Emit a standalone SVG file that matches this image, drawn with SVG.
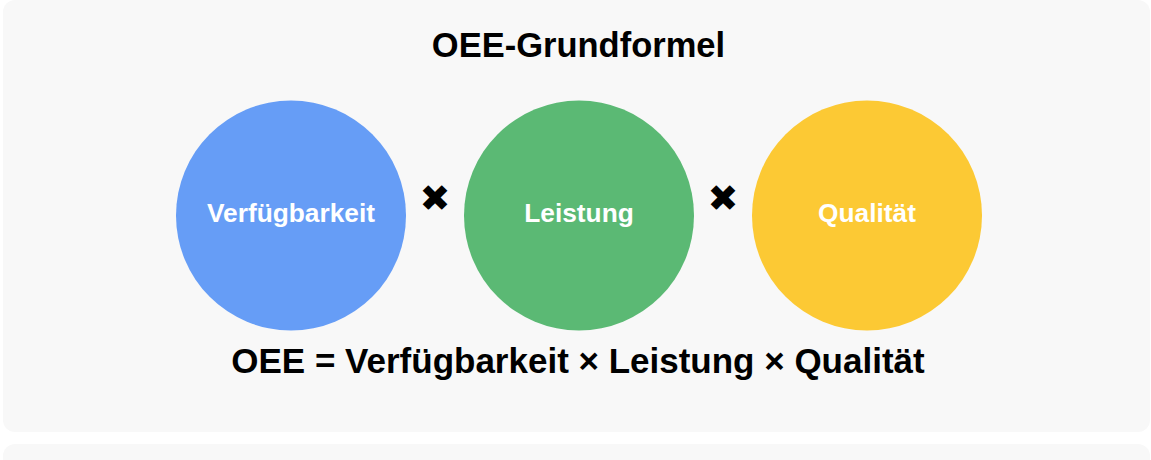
<svg xmlns="http://www.w3.org/2000/svg" width="1151" height="460" viewBox="0 0 1151 460">
  <style>
    .panel { fill: #f8f8f8; }
    .title { font-family: "Liberation Sans", Arial, sans-serif; font-weight: bold; fill: #000; text-anchor: middle; }
    .lbl { font-family: "Liberation Sans", Arial, sans-serif; font-weight: bold; font-size: 26.3px; fill: #fff; text-anchor: middle; }
    .op { font-family: "DejaVu Sans", sans-serif; font-size: 37px; fill: #000; text-anchor: middle; }
  </style>
  <rect width="1151" height="460" fill="#ffffff"/>
  <rect class="panel" x="3" y="0" width="1147" height="432" rx="12" ry="12"/>
  <rect class="panel" x="3" y="444" width="1147" height="40" rx="12" ry="12"/>
  <text class="title" x="578.5" y="57" font-size="34.5">OEE-Grundformel</text>
  <g id="node-verfuegbarkeit">
    <circle cx="291" cy="215.5" r="115" fill="#669df6"/>
    <text class="lbl" x="291" y="222">Verfügbarkeit</text>
  </g>
  <g id="op-1">
    <text class="op" x="435" y="210.5">✖</text>
  </g>
  <g id="node-leistung">
    <circle cx="579" cy="215.5" r="115" fill="#5bb974"/>
    <text class="lbl" x="579" y="222">Leistung</text>
  </g>
  <g id="op-2">
    <text class="op" x="723" y="210.5">✖</text>
  </g>
  <g id="node-qualitaet">
    <circle cx="867" cy="215.5" r="115" fill="#fcc934"/>
    <text class="lbl" x="867" y="222">Qualität</text>
  </g>
  <g id="connectors"></g>
  <text class="title" x="578" y="373" font-size="35">OEE = Verfügbarkeit × Leistung × Qualität</text>
</svg>
